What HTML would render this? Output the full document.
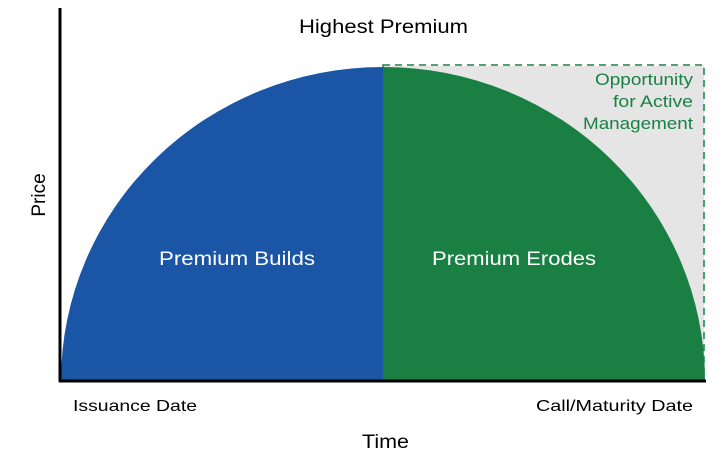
<!DOCTYPE html>
<html><head><style>html,body{margin:0;padding:0;background:#fff;}svg{display:block;}</style></head>
<body>
<svg width="726" height="455" xmlns="http://www.w3.org/2000/svg" font-family="Liberation Sans, Arial, sans-serif">
<rect x="383" y="66" width="321" height="315" fill="#e5e5e5"/>
<rect x="383" y="65" width="321" height="316" fill="none" stroke="#1a8044" stroke-width="1.5" stroke-dasharray="7,5"/>
<path d="M61,381 A322,314 0 0 1 383,67 L383,381 Z" fill="#1a56a5"/>
<path d="M383,67 A322,314 0 0 1 705,381 L383,381 Z" fill="#1a7f42"/>
<line x1="60" y1="8" x2="60" y2="382" stroke="#000" stroke-width="3"/>
<line x1="59" y1="381" x2="706" y2="381" stroke="#000" stroke-width="3"/>
<text x="299" y="33" font-size="19" textLength="169" lengthAdjust="spacingAndGlyphs">Highest Premium</text>
<text x="595" y="85" font-size="17" fill="#1a8044" textLength="98" lengthAdjust="spacingAndGlyphs">Opportunity</text>
<text x="613" y="107" font-size="17" fill="#1a8044" textLength="80" lengthAdjust="spacingAndGlyphs">for Active</text>
<text x="583" y="129" font-size="17" fill="#1a8044" textLength="110" lengthAdjust="spacingAndGlyphs">Management</text>
<text x="159" y="265" font-size="19" fill="#fff" textLength="156" lengthAdjust="spacingAndGlyphs">Premium Builds</text>
<text x="432" y="265" font-size="19" fill="#fff" textLength="164" lengthAdjust="spacingAndGlyphs">Premium Erodes</text>
<text x="73" y="411" font-size="16" textLength="124" lengthAdjust="spacingAndGlyphs">Issuance Date</text>
<text x="536" y="411" font-size="16" textLength="157" lengthAdjust="spacingAndGlyphs">Call/Maturity Date</text>
<text x="362" y="448" font-size="19" textLength="47" lengthAdjust="spacingAndGlyphs">Time</text>
<text transform="translate(45,195) rotate(-90)" font-size="19" text-anchor="middle">Price</text>
</svg>
</body></html>
